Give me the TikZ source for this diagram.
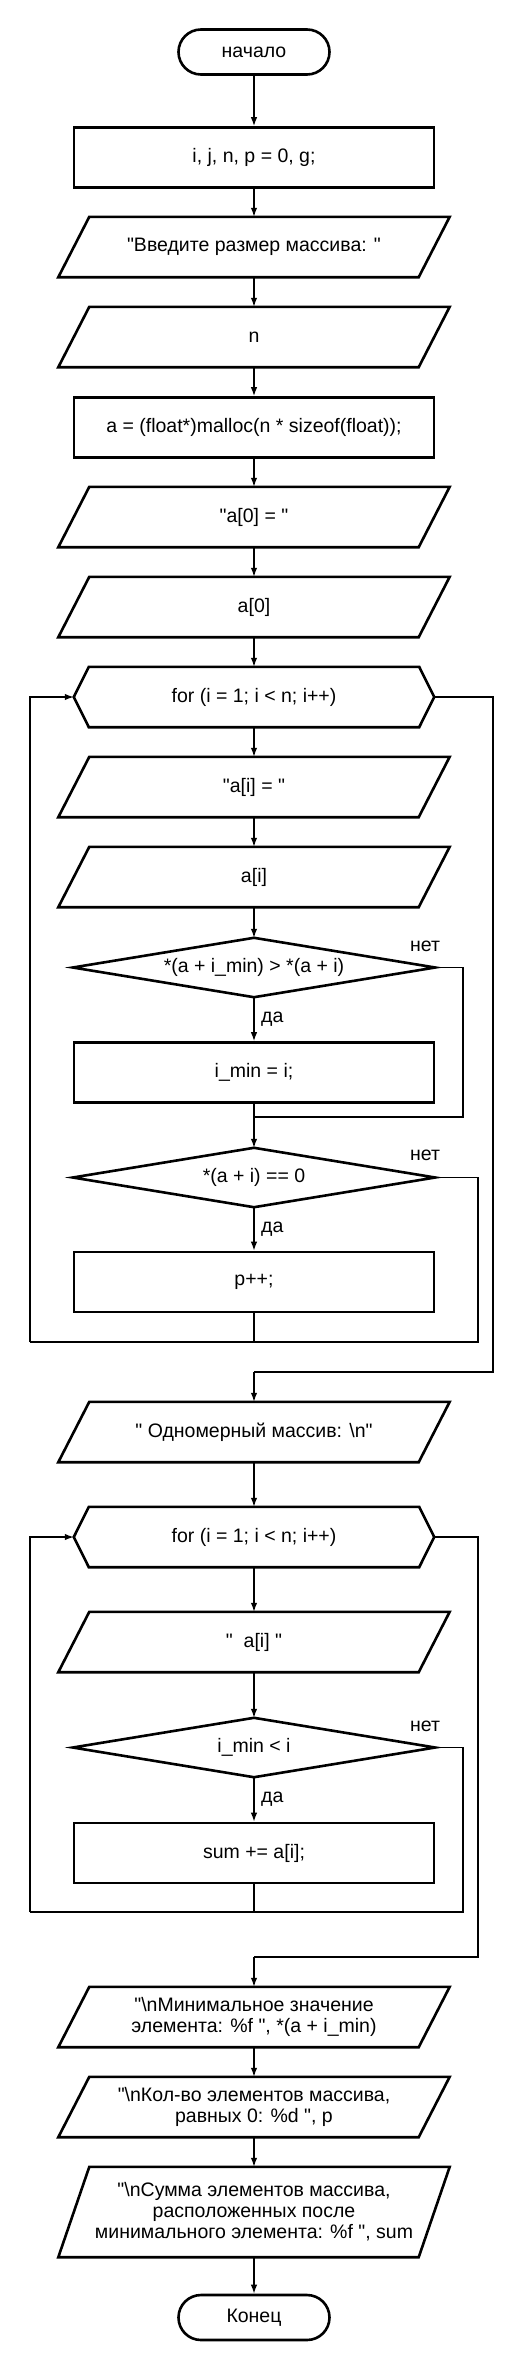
\documentclass[tikz,border=0pt]{standalone}
\usepackage{fontspec}
\setmainfont{Liberation Sans}[Ligatures=TeXOff]
\usetikzlibrary{arrows.meta}
\begin{document}
\begin{tikzpicture}[x=1bp,y=-1bp,
  every node/.style={font=\fontsize{19.5bp}{21bp}\selectfont},
  box/.style={rectangle, draw, line width=2.6bp, minimum width=360bp, minimum height=60bp, inner sep=0pt, align=center},
  iobox/.style={rectangle, minimum width=360bp, minimum height=60bp, inner sep=0pt, align=center},
  hexbox/.style={rectangle, minimum width=360bp, minimum height=60bp, inner sep=0pt, align=center},
  decbox/.style={rectangle, minimum width=362bp, minimum height=59bp, inner sep=0pt, align=center},
  term/.style={rectangle, draw, rounded corners=22.5bp, line width=2.6bp, minimum width=151bp, minimum height=45bp, inner sep=0pt},
  outline/.style={line width=2.6bp},
  conn/.style={line width=1.4bp},
  arr/.style={conn, -{Latex[length=9bp,width=6.5bp]}},
  lbl/.style={inner sep=0pt}
]
\useasboundingbox (0,0) rectangle (525,2370);

% nodes
\node[term] (start) at (254,52) {начало};
\node[box] (r1) at (254,157.5) {i, j, n, p = 0, g;};
\node[iobox] (p1) at (254,247) {"Введите размер массива: "};
\node[iobox] (p2) at (254,337) {n};
\node[box] (r2) at (254,427.5) {a = (float*)malloc(n * sizeof(float));};
\node[iobox] (p3) at (254,517) {"a[0] = "};
\node[iobox] (p4) at (254,607) {a[0]};
\node[hexbox] (h1) at (254,697) {for (i = 1; i < n; i++)};
\node[iobox] (p5) at (254,787) {"a[i] = "};
\node[iobox] (p6) at (254,877) {a[i]};
\node[decbox] (d1) at (254,967.5) {*(a + i\_min) > *(a + i)};
\node[box] (r3) at (254,1072.5) {i\_min = i;};
\node[decbox] (d2) at (254,1177.5) {*(a + i) == 0};
\node[box] (r4) at (254,1282) {p++;};
\node[iobox] (p7) at (254,1432) {" Одномерный массив: \textbackslash n"};
\node[hexbox] (h2) at (254,1537) {for (i = 1; i < n; i++)};
\node[iobox] (p8) at (254,1642) {"\ \ a[i] "};
\node[decbox] (d3) at (254,1747.5) {i\_min < i};
\node[box] (r5) at (254,1853) {sum += a[i];};
\node[iobox] (p9) at (254,2017) {"\textbackslash nМинимальное значение\\элемента: \%f ", *(a + i\_min)};
\node[iobox] (p10) at (254,2107) {"\textbackslash nКол-во элементов массива,\\равных 0: \%d ", p};
\node[iobox, minimum height=90bp] (p11) at (254,2212) {"\textbackslash nСумма элементов массива,\\расположенных после\\минимального элемента: \%f ", sum};
\node[term] (fin) at (254,2317.5) {Конец};

% shapes
\foreach \n in {p1,p2,p3,p4,p5,p6,p7,p8,p9,p10,p11}
  \draw[outline] ([xshift=15.5bp]\n.north west) -- ([xshift=15.5bp]\n.north east)
     -- ([xshift=-15.5bp]\n.south east) -- ([xshift=-15.5bp]\n.south west) -- cycle;
\foreach \n in {h1,h2}
  \draw[outline] (\n.west) -- ([xshift=15bp]\n.north west) -- ([xshift=-15bp]\n.north east)
     -- (\n.east) -- ([xshift=-15bp]\n.south east) -- ([xshift=15bp]\n.south west) -- cycle;
\foreach \n in {d1,d2,d3}
  \draw[outline] (\n.north) -- (\n.east) -- (\n.south) -- (\n.west) -- cycle;

% labels
\node[lbl] (no1) at (425,946) {нет};
\node[lbl] (no2) at (425,1155) {нет};
\node[lbl] (no3) at (425,1726) {нет};
\node[lbl, anchor=west] (yes1) at (261,1019) {да};
\node[lbl, anchor=west] (yes2) at (261,1229) {да};
\node[lbl, anchor=west] (yes3) at (261,1799) {да};

% coordinates
\coordinate (c1) at (463,1117);
\coordinate (j1) at (254,1117);
\coordinate (c2) at (478,1342);
\coordinate (j2) at (254,1342);
\coordinate (c3) at (30,1342);
\coordinate (c4) at (493,1372);
\coordinate (j3) at (254,1372);
\coordinate (c5) at (463,1912);
\coordinate (j4) at (254,1912);
\coordinate (c6) at (30,1912);
\coordinate (c7) at (478,1957);
\coordinate (j5) at (254,1957);

% straight connectors
\draw[arr] (start) -- (r1);
\draw[arr] (r1) -- (p1);
\draw[arr] (p1) -- (p2);
\draw[arr] (p2) -- (r2);
\draw[arr] (r2) -- (p3);
\draw[arr] (p3) -- (p4);
\draw[arr] (p4) -- (h1);
\draw[arr] (h1) -- (p5);
\draw[arr] (p5) -- (p6);
\draw[arr] (p6) -- (d1);
\draw[arr] (d1) -- (r3);
\draw[arr] (d2) -- (r4);
\draw[arr] (p7) -- (h2);
\draw[arr] (h2) -- (p8);
\draw[arr] (p8) -- (d3);
\draw[arr] (d3) -- (r5);
\draw[arr] (p9) -- (p10);
\draw[arr] (p10) -- (p11);
\draw[arr] (p11) -- (fin);

% loop 1
\draw[conn] (d1.east) -| (c1) -- (j1);
\draw[conn] (r3) -- (j1);
\draw[arr] (j1) -- (d2);
\draw[conn] (d2.east) -| (c2) -- (c3);
\draw[conn] (r4) -- (j2);
\draw[arr] (c3) |- (h1.west);
\draw[conn] (h1.east) -| (c4) -- (j3);
\draw[arr] (j3) -- (p7);

% loop 2
\draw[conn] (d3.east) -| (c5) -- (c6);
\draw[conn] (r5) -- (j4);
\draw[arr] (c6) |- (h2.west);
\draw[conn] (h2.east) -| (c7) -- (j5);
\draw[arr] (j5) -- (p9);
\end{tikzpicture}
\end{document}
